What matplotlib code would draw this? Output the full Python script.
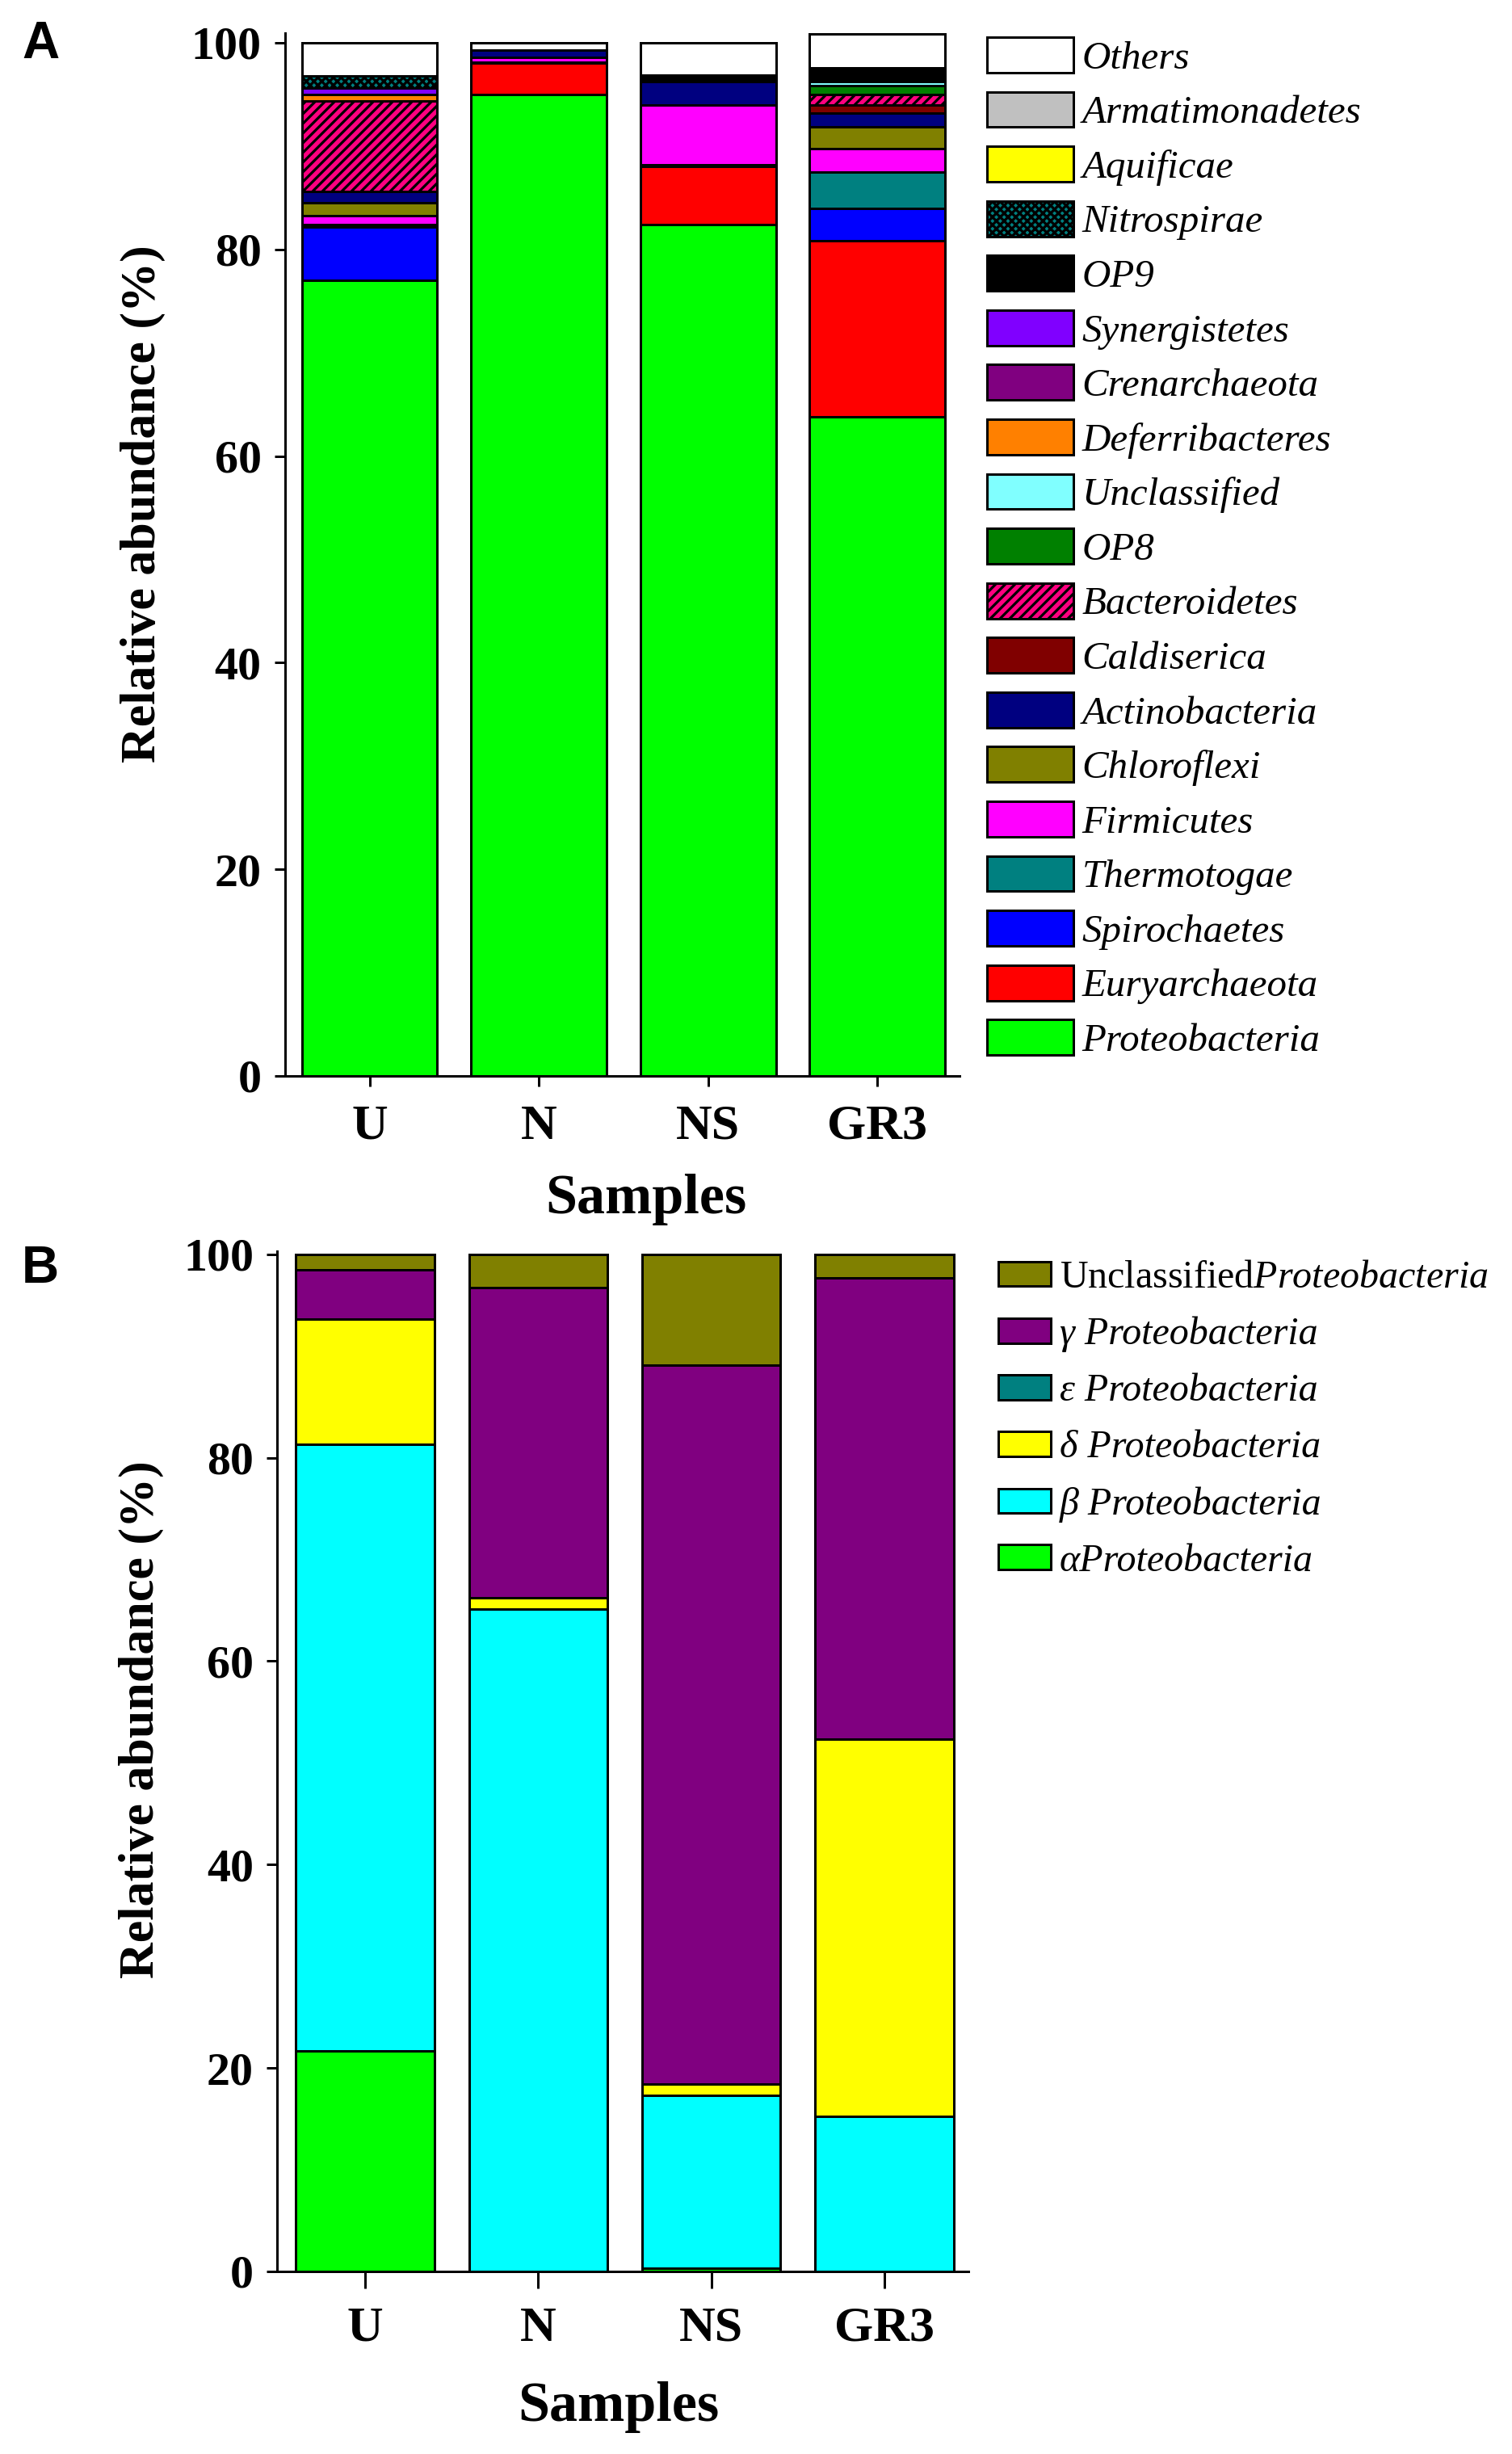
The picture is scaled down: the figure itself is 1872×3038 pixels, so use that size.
import matplotlib
matplotlib.use('Agg')
import matplotlib.pyplot as plt
import numpy as np

plt.rcParams['font.family'] = ['Liberation Serif', 'DejaVu Serif']
plt.rcParams['mathtext.fontset'] = 'custom'
plt.rcParams['mathtext.rm'] = 'Liberation Serif'
plt.rcParams['mathtext.it'] = 'Liberation Serif:italic'
plt.rcParams['hatch.linewidth'] = 1.6

samples = ['U', 'N', 'NS', 'GR3']

# Panel A: phyla, listed from the bottom of the stack to the top (%)
proteobacteria = [77.0, 95.0, 82.4, 63.8]
euryarchaeota = [0.0, 3.0, 5.6, 17.05]
spirochaetes = [5.2, 0.15, 0.15, 3.15]
thermotogae = [0.2, 0.0, 0.0, 3.45]
firmicutes = [0.85, 0.4, 5.8, 2.3]
chloroflexi = [1.3, 0.0, 0.0, 2.15]
actinobacteria = [1.05, 0.75, 2.3, 1.3]
caldiserica = [0.0, 0.0, 0.0, 0.75]
bacteroidetes = [8.8, 0.0, 0.0, 1.05]
op8 = [0.0, 0.0, 0.0, 0.85]
unclassified = [0.0, 0.0, 0.0, 0.4]
deferribacteres = [0.6, 0.0, 0.0, 0.0]
crenarchaeota = [0.0, 0.0, 0.0, 0.0]
synergistetes = [0.6, 0.0, 0.0, 0.0]
op9 = [0.0, 0.0, 0.6, 1.3]
nitrospirae = [1.15, 0.0, 0.0, 0.0]
aquificae = [0.0, 0.0, 0.0, 0.0]
armatimonadetes = [0.0, 0.0, 0.0, 0.0]
others = [3.25, 0.7, 3.15, 3.3]

phyla = [
    ('Proteobacteria', proteobacteria),
    ('Euryarchaeota', euryarchaeota),
    ('Spirochaetes', spirochaetes),
    ('Thermotogae', thermotogae),
    ('Firmicutes', firmicutes),
    ('Chloroflexi', chloroflexi),
    ('Actinobacteria', actinobacteria),
    ('Caldiserica', caldiserica),
    ('Bacteroidetes', bacteroidetes),
    ('OP8', op8),
    ('Unclassified', unclassified),
    ('Deferribacteres', deferribacteres),
    ('Crenarchaeota', crenarchaeota),
    ('Synergistetes', synergistetes),
    ('OP9', op9),
    ('Nitrospirae', nitrospirae),
    ('Aquificae', aquificae),
    ('Armatimonadetes', armatimonadetes),
    ('Others', others),
]

# Panel B: Proteobacteria classes, bottom to top (%)
alpha = [21.7, 0.0, 0.3, 0.0]
beta = [59.6, 65.1, 17.0, 15.25]
delta = [12.3, 1.1, 1.1, 37.05]
epsilon = [0.0, 0.0, 0.0, 0.0]
gamma = [4.9, 30.5, 70.7, 45.4]
unclassified_proteo = [1.5, 3.3, 10.9, 2.3]

classes = [
    ('αProteobacteria', alpha),
    ('β Proteobacteria', beta),
    ('δ Proteobacteria', delta),
    ('ε Proteobacteria', epsilon),
    ('γ Proteobacteria', gamma),
    (r'$\mathrm{Unclassified}$Proteobacteria', unclassified_proteo),
]

colors_a = {
    'Proteobacteria': '#00ff00', 'Euryarchaeota': '#ff0000', 'Spirochaetes': '#0000ff',
    'Thermotogae': '#008080', 'Firmicutes': '#ff00ff', 'Chloroflexi': '#808000',
    'Actinobacteria': '#000080', 'Caldiserica': '#800000', 'Bacteroidetes': '#ff0080',
    'OP8': '#008000', 'Unclassified': '#80ffff', 'Deferribacteres': '#ff8000',
    'Crenarchaeota': '#800080', 'Synergistetes': '#8000ff', 'OP9': '#000000',
    'Nitrospirae': '#008080', 'Aquificae': '#ffff00', 'Armatimonadetes': '#c0c0c0',
    'Others': '#ffffff',
}
hatches_a = {'Bacteroidetes': '////', 'Nitrospirae': 'xxxxx'}
colors_b = ['#00ff00', '#00ffff', '#ffff00', '#008080', '#800080', '#808000']

W, H, DPI = 1872, 3038, 144
fig = plt.figure(figsize=(W / DPI, H / DPI), dpi=DPI)
fig.patch.set_facecolor('white')


def px_axes(left, right, top, bottom):
    return fig.add_axes([left / W, 1 - bottom / H, (right - left) / W, (bottom - top) / H])


def style_axes(ax, xtick_len, xpad):
    for side in ('top', 'right'):
        ax.spines[side].set_visible(False)
    for side in ('left', 'bottom'):
        ax.spines[side].set_linewidth(1.5)
    ax.tick_params(axis='y', direction='out', length=6.5, width=1.5, pad=8, labelsize=29)
    ax.tick_params(axis='x', direction='out', length=xtick_len, width=1.5, pad=xpad, labelsize=31)
    ax.set_yticks([0, 20, 40, 60, 80, 100])
    for lab in ax.get_xticklabels() + ax.get_yticklabels():
        lab.set_fontweight('bold')


x = np.arange(len(samples))

# ---- panel A ----
ax1 = px_axes(352.7, 1188, 41.4, 1332)
bottom = np.zeros(len(samples))
handles_a = []
for name, vals in phyla:
    bars = ax1.bar(x, vals, 0.8, bottom=bottom, color=colors_a[name], edgecolor='black',
                   linewidth=1.5, hatch=hatches_a.get(name), label=name)
    handles_a.append(bars)
    bottom += np.array(vals)
ax1.set_xlim(-0.5, 3.485)
ax1.set_ylim(0, 100.9)
ax1.set_xticks(x)
ax1.set_xticklabels(samples)
style_axes(ax1, 6.5, 11)
ax1.set_ylabel('Relative abundance (%)', fontsize=31, fontweight='bold')
ax1.yaxis.set_label_coords(-0.177, 0.549)
ax1.set_xlabel('Samples', fontsize=35, fontweight='bold')
ax1.xaxis.set_label_coords(0.5355, -0.094)

fig.legend(handles_a[::-1], [n for n, _ in phyla][::-1], loc='upper left',
           bbox_to_anchor=(1222 / W, 1 - 46 / H), frameon=False, borderpad=0,
           borderaxespad=0, handlelength=2.18, handleheight=1.0, handletextpad=0.22,
           labelspacing=0.385, prop={'family': 'Liberation Serif', 'style': 'italic', 'size': 24.5})

# ---- panel B ----
ax2 = px_axes(343, 1199, 1549, 2812)
bottom = np.zeros(len(samples))
handles_b = []
for (name, vals), c in zip(classes, colors_b):
    bars = ax2.bar(x, vals, 0.8, bottom=bottom, color=c, edgecolor='black',
                   linewidth=1.5, label=name)
    handles_b.append(bars)
    bottom += np.array(vals)
ax2.set_xlim(-0.508, 3.485)
ax2.set_ylim(0, 100.3)
ax2.set_xticks(x)
ax2.set_xticklabels(samples)
style_axes(ax2, 10.5, 11)
ax2.set_ylabel('Relative abundance (%)', fontsize=31, fontweight='bold')
ax2.yaxis.set_label_coords(-0.1636, 0.541)
ax2.set_xlabel('Samples', fontsize=35, fontweight='bold')
ax2.xaxis.set_label_coords(0.494, -0.108)

fig.legend(handles_b[::-1], [n for n, _ in classes][::-1], loc='upper left',
           bbox_to_anchor=(1236 / W, 1 - 1560 / H), frameon=False, borderpad=0,
           borderaxespad=0, handlelength=1.36, handleheight=0.6, handletextpad=0.22,
           labelspacing=0.54, prop={'family': 'Liberation Serif', 'style': 'italic', 'size': 24})

# panel letters
fig.text(27 / W, 1 - 72 / H, 'A', family='Liberation Sans', fontweight='bold', fontsize=32,
         ha='left', va='baseline')
fig.text(27 / W, 1 - 1588 / H, 'B', family='Liberation Sans', fontweight='bold', fontsize=32,
         ha='left', va='baseline')

fig.savefig('out.png', dpi=DPI, facecolor='white')
